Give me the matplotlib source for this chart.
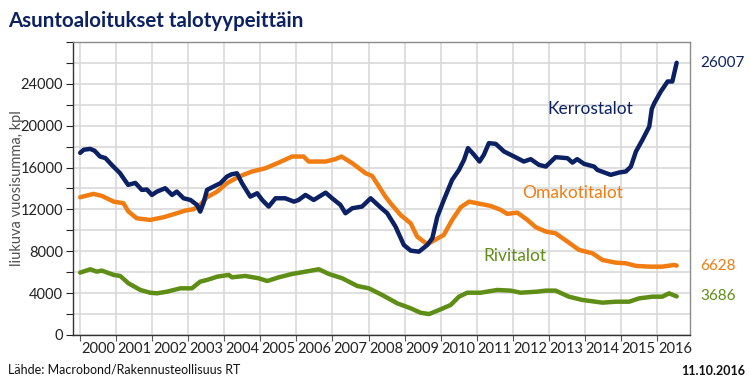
import numpy as np
import matplotlib.pyplot as plt
import matplotlib.transforms as mtransforms
from matplotlib.ticker import FixedLocator, NullFormatter

# ------------------------------------------------------------
# data (rolling 12-month sums)
# ------------------------------------------------------------

kerros_t = [2000.0, 2000.1, 2000.28, 2000.4, 2000.55, 2000.7, 2000.92, 2001.1, 2001.33,
            2001.53, 2001.71, 2001.85, 2001.99, 2002.13, 2002.36, 2002.55, 2002.68, 2002.87,
            2003.06, 2003.24, 2003.33, 2003.42, 2003.52, 2003.70, 2003.89, 2004.07, 2004.2,
            2004.35, 2004.49, 2004.72, 2004.91, 2005.05, 2005.23, 2005.42, 2005.69, 2005.93,
            2006.06, 2006.25, 2006.48, 2006.81, 2006.99, 2007.22, 2007.36, 2007.55, 2007.82,
            2008.06, 2008.33, 2008.52, 2008.75, 2008.98, 2009.17, 2009.40, 2009.63, 2009.77,
            2009.91, 2010.09, 2010.32, 2010.51, 2010.65, 2010.76, 2010.93, 2011.08, 2011.2,
            2011.34, 2011.53, 2011.76, 2012.04, 2012.31, 2012.5, 2012.73, 2012.92, 2013.19,
            2013.52, 2013.66, 2013.79, 2013.98, 2014.26, 2014.35, 2014.72, 2014.95, 2015.14,
            2015.28, 2015.42, 2015.6, 2015.79, 2015.86, 2015.93, 2016.11, 2016.3, 2016.43,
            2016.55]
kerros_v = [17400, 17700, 17780, 17600, 17050, 16900, 16090, 15480, 14340,
            14530, 13860, 13900, 13380, 13700, 14020, 13380, 13700, 13060,
            12900, 12430, 11790, 12600, 13860, 14180, 14500, 15130, 15350,
            15450, 14500, 13220, 13540, 12900, 12270, 13060, 13060, 12740,
            12900, 13380, 12900, 13600, 13060, 12430, 11630, 12110, 12270,
            13060, 12200, 11630, 10350, 8600, 8060, 7960, 8600, 9240,
            11310, 12900, 14820, 15770, 16730, 17850, 17210, 16570, 17210,
            18330, 18260, 17530, 17050, 16570, 16800, 16250, 16090, 16990,
            16890, 16470, 16800, 16350, 16090, 15770, 15300, 15520, 15620,
            16090, 17530, 18640, 19910, 21600, 22150, 23260, 24220, 24220,
            26007]

omakoti_t = [2000.0, 2000.37, 2000.6, 2000.93, 2001.2, 2001.34, 2001.57, 2001.94, 2002.31,
             2002.68, 2002.92, 2003.15, 2003.33, 2003.52, 2003.8, 2004.07, 2004.4, 2004.77,
             2005.14, 2005.51, 2005.88, 2006.2, 2006.34, 2006.81, 2007.08, 2007.25, 2007.55,
             2007.92, 2008.1, 2008.29, 2008.47, 2008.61, 2008.89, 2009.17, 2009.35, 2009.63,
             2009.81, 2010.09, 2010.32, 2010.56, 2010.79, 2011.11, 2011.39, 2011.67, 2011.85,
             2012.13, 2012.41, 2012.64, 2012.92, 2013.19, 2013.52, 2013.84, 2014.21, 2014.49,
             2014.86, 2015.14, 2015.42, 2015.79, 2016.15, 2016.48, 2016.55]
omakoti_v = [13160, 13480, 13290, 12740, 12590, 11790, 11150, 10990, 11250,
             11630, 11890, 12020, 12430, 13160, 13700, 14500, 15130, 15620,
             15930, 16470, 17050, 17050, 16570, 16570, 16800, 17050, 16410,
             15450, 15200, 14180, 13220, 12590, 11470, 10670, 9400, 8670,
             9020, 9560, 10990, 12210, 12740, 12520, 12330, 11950, 11570,
             11690, 10990, 10300, 9880, 9720, 8920, 8130, 7810, 7170,
             6910, 6850, 6600, 6530, 6530, 6690, 6628]

rivi_t = [2000.0, 2000.28, 2000.46, 2000.6, 2000.93, 2001.11, 2001.34, 2001.67, 2001.94,
          2002.13, 2002.41, 2002.78, 2003.1, 2003.33, 2003.52, 2003.8, 2004.12, 2004.21,
          2004.58, 2004.95, 2005.19, 2005.51, 2005.88, 2006.25, 2006.62, 2006.9, 2007.27,
          2007.69, 2008.01, 2008.38, 2008.8, 2009.17, 2009.44, 2009.68, 2010.0, 2010.28,
          2010.51, 2010.74, 2011.11, 2011.57, 2011.94, 2012.22, 2012.68, 2012.92, 2013.19,
          2013.56, 2013.93, 2014.3, 2014.49, 2014.86, 2015.23, 2015.51, 2015.88, 2016.15,
          2016.34, 2016.55]
rivi_v = [5960, 6280, 6050, 6150, 5740, 5640, 4940, 4300, 4040,
          3980, 4140, 4460, 4460, 5100, 5260, 5570, 5740, 5510,
          5640, 5420, 5160, 5510, 5830, 6050, 6280, 5830, 5420,
          4680, 4460, 3820, 3020, 2550, 2130, 2000, 2450, 2870,
          3660, 4040, 4040, 4300, 4240, 4040, 4140, 4240, 4240,
          3660, 3350, 3180, 3090, 3180, 3180, 3500, 3660, 3660,
          3980, 3686]

years = list(range(2000, 2017))

NAVY = "#0c2163"
ORANGE = "#f07c12"
GREEN = "#5e8e16"
GRID = "#d9d9d9"

plt.rcParams["font.family"] = ["Lato", "DejaVu Sans"]

fig = plt.figure(figsize=(7.5, 3.88), dpi=100)
ax = fig.add_axes([0.0973, 0.1366, 0.8227, 0.7554])

for t, v, c in [(omakoti_t, omakoti_v, ORANGE), (rivi_t, rivi_v, GREEN), (kerros_t, kerros_v, NAVY)]:
    ax.plot(t, v, color=c, lw=3.2, solid_joinstyle="round", solid_capstyle="round", zorder=3)

ax.set_xlim(1999.8, 2016.92)
ax.set_ylim(0, 28000)

# y ticks: labels every 4000, grid every 2000
ax.yaxis.set_major_locator(FixedLocator(range(0, 28001, 4000)))
ax.yaxis.set_minor_locator(FixedLocator(range(2000, 28001, 4000)))
ax.set_yticklabels([str(v) if v < 28000 else "" for v in range(0, 28001, 4000)])

# x ticks: gridlines at year starts, labels mid-year
ax.xaxis.set_major_locator(FixedLocator(years + [2017]))
ax.xaxis.set_major_formatter(NullFormatter())
ax.xaxis.set_minor_locator(FixedLocator([y + 0.5 for y in years]))
ax.set_xticklabels([str(y) for y in years], minor=True)

ax.grid(True, which="both", axis="y", color=GRID, lw=1.2, zorder=0)
ax.grid(True, which="major", axis="x", color=GRID, lw=1.2, zorder=0)

ax.tick_params(axis="y", which="both", direction="out", length=5, width=0.8,
               labelsize=10.5, colors="#222222", pad=2)
ax.tick_params(axis="x", which="major", direction="out", length=4, width=0.8, color="#555555")
ax.tick_params(axis="x", which="minor", length=0, labelsize=10.5, labelcolor="#222222", pad=5)

for side in ["left", "bottom"]:
    ax.spines[side].set_color("#333333")
    ax.spines[side].set_linewidth(1.0)
for side in ["top", "right"]:
    ax.spines[side].set_color("#8c8c8c")
    ax.spines[side].set_linewidth(1.0)

ax.set_ylabel("liukuva vuosisumma, kpl", fontsize=10.5, color="#505050")
ax.yaxis.set_label_coords(-0.079, 0.5)

# series names inside the plot
ax.text(2014.14, 21600, "Kerrostalot", color=NAVY, fontsize=12.5, ha="center", va="center")
ax.text(2013.67, 13570, "Omakotitalot", color=ORANGE, fontsize=12.5, ha="center", va="center")
ax.text(2012.07, 7500, "Rivitalot", color=GREEN, fontsize=12.5, ha="center", va="center")

# last values on the right
trans = mtransforms.blended_transform_factory(ax.transAxes, ax.transData)
for v, c in [(kerros_v[-1], NAVY), (omakoti_v[-1], ORANGE), (rivi_v[-1], GREEN)]:
    ax.text(1.016, v, str(v), color=c, fontsize=11, ha="left", va="center", transform=trans)

fig.text(0.011, 0.946, "Asuntoaloitukset talotyypeittäin", color=NAVY, fontsize=14.8,
         fontweight="bold", ha="left", va="center")
fig.text(0.011, 0.047, "Lähde: Macrobond/Rakennusteollisuus RT", color="#111111", fontsize=9,
         ha="left", va="center")
fig.text(0.993, 0.045, "11.10.2016", color="#111111", fontsize=9, fontweight="bold",
         ha="right", va="center")

plt.savefig("out.png", dpi=100)
plt.close()
